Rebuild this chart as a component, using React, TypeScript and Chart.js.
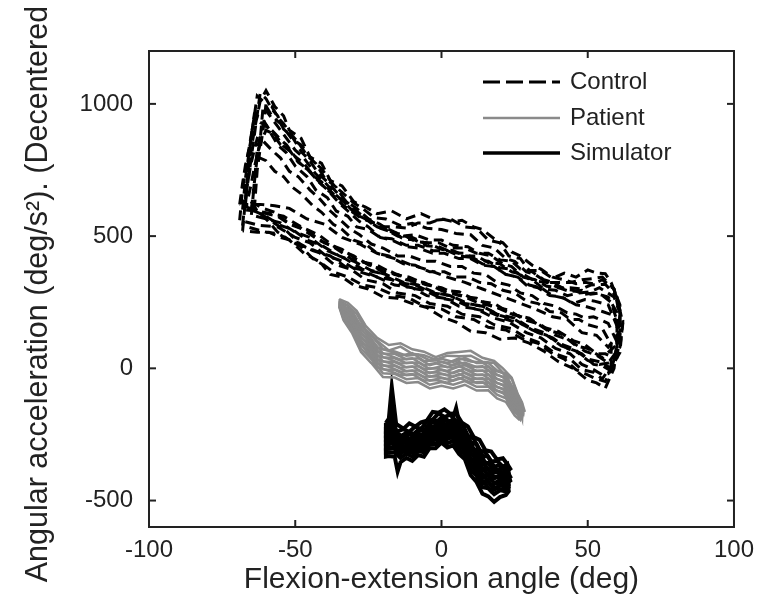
import React, { useEffect, useRef } from "react";
import { Chart, registerables } from "chart.js";

Chart.register(...registerables);

const xTicks = [-100, -50, 0, 50, 100];
const yTicks = [-500, 0, 500, 1000];
const legendLabels = ["Control", "Patient", "Simulator"];
const xTitle = "Flexion-extension angle (deg)";
const yTitle = "Angular acceleration (deg/s\u00B2). (Decentered)";

const controlTraces: number[][][] = [
  [[-67,620],[-66,760],[-64,900],[-62,1010],[-60,1050],[-57,990],[-54,955],[-52,900],[-48,870],[-45,800],[-41,775],[-38,710],[-34,690],[-30,630],[-26,610],[-22,585],[-17,595],[-12,565],[-7,585],[-2,560],[3,565],[8,535],[12,530],[16,485],[20,475],[23,425],[27,415],[30,370],[34,370],[38,340],[42,360],[46,345],[50,372],[53,360],[56,358],[58,325],[61,240],[61,140],[57,80],[53,125],[48,135],[43,185],[38,195],[32,225],[26,250],[20,275],[14,300],[8,325],[2,345],[-4,370],[-10,390],[-16,415],[-22,435],[-28,470],[-34,495],[-40,545],[-46,565],[-52,605],[-57,615],[-62,620],[-67,620]],
  [[-68,600],[-67,720],[-66,800],[-65,880],[-63,1030],[-61,1010],[-58,955],[-55,925],[-51,865],[-48,845],[-44,785],[-41,755],[-37,695],[-34,665],[-30,625],[-27,605],[-23,570],[-19,565],[-14,540],[-10,548],[-5,530],[0,525],[5,510],[10,505],[14,465],[18,455],[22,415],[25,405],[29,365],[32,355],[36,325],[40,325],[44,325],[48,335],[52,340],[55,345],[59,300],[61,200],[60,90],[55,40],[50,75],[46,85],[41,130],[36,145],[30,190],[24,205],[18,245],[12,255],[6,290],[0,295],[-6,325],[-12,335],[-18,370],[-24,385],[-30,425],[-36,455],[-42,505],[-48,535],[-54,575],[-58,585],[-63,595],[-68,600]],
  [[-65,580],[-64,700],[-63,800],[-62,860],[-61,990],[-59,960],[-56,915],[-54,885],[-50,825],[-47,795],[-43,735],[-40,705],[-36,655],[-33,625],[-29,580],[-26,565],[-22,535],[-18,525],[-13,500],[-9,505],[-4,485],[0,485],[4,465],[9,460],[13,435],[17,425],[21,395],[24,385],[28,345],[31,335],[35,300],[39,295],[43,275],[47,285],[51,290],[54,305],[59,270],[62,180],[61,60],[58,0],[54,25],[50,35],[45,75],[40,95],[35,135],[30,155],[25,190],[19,205],[14,235],[8,245],[3,275],[-3,285],[-9,315],[-15,325],[-21,360],[-27,375],[-33,415],[-39,445],[-45,495],[-50,515],[-55,550],[-60,565],[-65,580]],
  [[-69,560],[-68,680],[-66,820],[-64,950],[-62,930],[-60,920],[-56,845],[-53,815],[-50,765],[-46,725],[-43,675],[-39,645],[-36,595],[-32,575],[-29,535],[-25,525],[-21,495],[-17,490],[-12,465],[-8,465],[-3,445],[2,445],[6,425],[10,420],[14,395],[18,385],[22,355],[26,345],[29,315],[33,305],[37,275],[41,270],[45,245],[49,260],[52,255],[57,240],[60,160],[60,60],[57,-20],[55,-25],[52,-5],[48,15],[44,55],[39,75],[34,115],[29,135],[23,175],[18,190],[12,225],[6,235],[1,265],[-5,275],[-10,305],[-16,315],[-22,345],[-28,365],[-34,405],[-40,430],[-45,475],[-50,495],[-56,535],[-62,540],[-69,560]],
  [[-66,650],[-65,700],[-64,760],[-62,850],[-60,900],[-58,890],[-55,845],[-52,825],[-49,780],[-46,755],[-42,705],[-39,675],[-35,625],[-32,595],[-28,555],[-25,535],[-21,495],[-17,485],[-12,460],[-8,455],[-3,435],[1,435],[6,415],[10,415],[14,390],[18,385],[22,355],[26,345],[30,315],[34,305],[38,275],[42,265],[46,240],[49,235],[55,215],[59,200],[61,130],[60,40],[56,-50],[53,-40],[50,-25],[46,-5],[42,35],[38,55],[33,95],[28,110],[22,145],[16,155],[11,185],[5,195],[0,225],[-6,235],[-11,265],[-16,275],[-22,305],[-27,315],[-32,345],[-37,365],[-42,405],[-47,435],[-52,485],[-56,515],[-60,565],[-63,595],[-66,650]],
  [[-68,540],[-67,650],[-66,720],[-65,780],[-63,870],[-61,860],[-58,825],[-55,795],[-52,745],[-49,725],[-45,675],[-42,645],[-38,595],[-35,565],[-31,525],[-28,505],[-24,470],[-20,455],[-15,425],[-11,425],[-6,405],[-2,405],[3,385],[7,385],[11,360],[15,355],[19,325],[23,315],[27,285],[31,275],[35,245],[39,235],[43,210],[46,205],[49,190],[52,195],[57,170],[60,100],[59,0],[56,-75],[53,-55],[50,-45],[45,0],[40,25],[35,65],[30,95],[25,115],[20,110],[15,135],[10,140],[5,175],[0,195],[-5,230],[-10,245],[-15,265],[-20,270],[-25,300],[-30,315],[-34,345],[-38,355],[-41,395],[-44,415],[-48,460],[-52,485],[-56,510],[-60,515],[-68,540]],
  [[-69,620],[-68,700],[-67,770],[-66,820],[-63,800],[-60,785],[-57,745],[-54,725],[-51,685],[-48,660],[-44,615],[-41,590],[-37,545],[-34,525],[-30,485],[-26,470],[-22,435],[-18,425],[-13,395],[-9,390],[-4,365],[1,365],[5,345],[9,345],[13,325],[17,320],[21,295],[25,285],[29,255],[33,245],[37,215],[41,210],[44,185],[47,185],[50,165],[55,150],[58,90],[58,10],[55,-40],[52,-15],[48,-5],[44,35],[39,55],[34,95],[29,115],[24,150],[18,165],[13,195],[7,205],[2,235],[-4,245],[-9,275],[-15,285],[-20,320],[-26,335],[-31,375],[-37,395],[-42,440],[-48,465],[-53,520],[-58,555],[-63,595],[-69,620]],
  [[-64,600],[-63,750],[-62,830],[-61,900],[-60,1000],[-58,990],[-56,950],[-54,925],[-51,880],[-49,855],[-46,805],[-43,775],[-40,720],[-36,685],[-33,635],[-29,605],[-25,565],[-21,545],[-17,515],[-13,505],[-9,480],[-5,475],[0,450],[4,445],[8,425],[12,425],[16,400],[20,395],[24,365],[28,355],[32,330],[36,325],[40,305],[44,305],[48,300],[51,315],[56,318],[60,270],[62,170],[61,80],[57,20],[53,50],[49,65],[44,105],[39,125],[34,165],[28,185],[23,220],[17,235],[12,265],[6,275],[0,305],[-5,315],[-11,345],[-16,355],[-22,390],[-28,405],[-34,450],[-40,475],[-46,520],[-52,545],[-56,575],[-60,585],[-64,600]],
  [[-67,640],[-66,780],[-65,880],[-64,960],[-62,950],[-61,940],[-59,905],[-57,885],[-54,840],[-51,815],[-48,770],[-45,745],[-41,695],[-38,665],[-34,620],[-31,595],[-27,565],[-24,555],[-20,535],[-16,535],[-12,530],[-8,550],[-4,550],[0,565],[4,555],[7,560],[11,535],[14,525],[18,490],[21,475],[24,440],[27,425],[31,390],[34,375],[38,345],[42,335],[46,320],[49,325],[52,320],[55,335],[59,300],[61,220],[61,120],[59,40],[56,55],[53,55],[49,90],[45,105],[40,140],[35,155],[29,190],[24,205],[18,235],[13,245],[7,275],[2,285],[-4,315],[-9,325],[-15,355],[-20,365],[-26,400],[-31,415],[-37,460],[-42,485],[-48,530],[-53,555],[-57,590],[-61,605],[-67,640]],
  [[-68,520],[-67,640],[-66,720],[-65,800],[-63,960],[-62,1040],[-60,1020],[-58,980],[-56,955],[-54,905],[-51,875],[-48,820],[-45,785],[-42,735],[-39,705],[-35,655],[-32,625],[-28,585],[-25,565],[-21,530],[-17,515],[-13,490],[-9,485],[-5,463],[-1,460],[4,437],[8,435],[12,410],[16,405],[20,380],[24,375],[28,345],[32,335],[36,310],[40,305],[44,290],[48,295],[51,280],[54,285],[58,250],[60,180],[60,80],[58,-10],[55,10],[52,15],[48,55],[43,75],[38,115],[33,135],[27,170],[22,185],[16,215],[11,225],[5,255],[0,265],[-6,295],[-11,305],[-17,335],[-22,345],[-28,375],[-33,385],[-38,425],[-44,445],[-50,480],[-55,495],[-59,515],[-63,515],[-68,520]],
  [[-65,600],[-64,700],[-63,830],[-61,920],[-59,910],[-58,900],[-55,865],[-53,845],[-50,800],[-47,775],[-44,730],[-41,705],[-37,660],[-34,635],[-30,595],[-27,575],[-23,540],[-19,525],[-15,500],[-10,495],[-6,475],[-1,475],[3,455],[8,455],[12,435],[16,435],[20,410],[24,405],[27,375],[31,365],[35,335],[38,325],[42,300],[45,295],[49,280],[52,285],[57,270],[60,210],[61,110],[59,30],[57,20],[54,15],[50,30],[46,65],[41,85],[36,125],[31,145],[25,185],[20,200],[14,235],[9,245],[3,275],[-2,285],[-8,315],[-13,325],[-19,355],[-24,370],[-30,405],[-35,425],[-41,465],[-46,485],[-51,525],[-55,540],[-60,575],[-65,600]],
];

const patientTraces: number[][][] = [
  [[-35,262],[-32,248],[-29,218],[-26,162],[-22,115],[-18,88],[-14,95],[-10,72],[-6,63],[-2,42],[2,58],[6,62],[10,66],[14,40],[18,28],[21,0],[24,-35],[26,-95],[27.5,-128],[28.5,-165],[27,-130],[25,-88],[22,-22],[19,-8],[16,20],[12,20],[8,40],[4,24],[0,36],[-4,30],[-8,52],[-12,48],[-16,64],[-20,72],[-24,124],[-27.5,160],[-30.5,216],[-33.5,232],[-35,262]],
  [[-35,256],[-32,238],[-29,206],[-26,148],[-22,104],[-18,68],[-14,82],[-10,55],[-6,50],[-2,33],[2,48],[6,46],[10,48],[14,25],[18,20],[21,-16],[24,-40],[26,-100],[27.5,-132],[28,-176],[27,-140],[25,-100],[22,-38],[19,-24],[16,6],[12,4],[8,22],[4,12],[0,24],[-4,12],[-8,38],[-12,34],[-16,55],[-20,56],[-24,110],[-27.5,146],[-30.5,204],[-33.5,226],[-35,256]],
  [[-35,252],[-32,236],[-29,180],[-26,145],[-22,78],[-18,66],[-14,48],[-10,58],[-6,28],[-2,30],[2,20],[6,38],[10,26],[14,22],[18,-8],[21,-18],[24,-68],[26,-98],[27.5,-152],[28,-172],[27,-150],[25,-114],[22,-52],[19,-40],[16,-8],[12,-10],[8,12],[4,2],[0,8],[-4,-2],[-8,22],[-12,20],[-16,38],[-20,42],[-24,95],[-27.5,132],[-30.5,192],[-33.5,218],[-35,252]],
  [[-35,248],[-32,226],[-29,168],[-26,130],[-22,64],[-18,50],[-14,33],[-10,38],[-6,12],[-2,20],[2,4],[6,24],[10,5],[14,8],[18,-22],[21,-32],[24,-82],[26,-110],[27.5,-160],[28,-182],[27,-158],[25,-128],[22,-68],[19,-55],[16,-24],[12,-25],[8,-3],[4,-18],[0,-6],[-4,-18],[-8,8],[-12,4],[-16,24],[-20,26],[-24,80],[-27.5,118],[-30.5,180],[-33.5,210],[-35,248]],
  [[-35,244],[-32,215],[-29,155],[-26,115],[-22,48],[-18,36],[-14,18],[-10,22],[-6,-2],[-2,0],[2,-10],[6,8],[10,-10],[14,-8],[18,-37],[21,-47],[24,-97],[26,-124],[27.5,-168],[27.5,-188],[27,-170],[25,-140],[22,-83],[19,-70],[16,-39],[12,-40],[8,-18],[4,-32],[0,-22],[-4,-32],[-8,-7],[-12,-11],[-16,9],[-20,11],[-24,65],[-27.5,103],[-30.5,168],[-33.5,202],[-35,244]],
  [[-35,240],[-32,205],[-29,141],[-26,100],[-22,33],[-18,21],[-14,2],[-10,7],[-6,-17],[-2,-15],[2,-25],[6,-7],[10,-25],[14,-23],[18,-52],[21,-62],[24,-112],[26,-137],[27.5,-176],[27.5,-190],[26.5,-178],[25,-154],[22,-98],[19,-85],[16,-54],[12,-55],[8,-33],[4,-47],[0,-37],[-4,-47],[-8,-22],[-12,-26],[-16,-6],[-20,-4],[-24,50],[-27.5,89],[-30.5,156],[-33.5,194],[-35,240]],
  [[-35,236],[-32,194],[-29,128],[-26,85],[-22,18],[-18,6],[-14,-13],[-10,-8],[-6,-32],[-2,-30],[2,-40],[6,-22],[10,-40],[14,-38],[18,-67],[21,-77],[24,-127],[26,-150],[27.5,-182],[27,-194],[26,-176],[25,-166],[22,-113],[19,-100],[16,-69],[12,-70],[8,-48],[4,-62],[0,-52],[-4,-62],[-8,-37],[-12,-41],[-16,-21],[-20,-19],[-24,35],[-27.5,75],[-30.5,144],[-33.5,188],[-35,236]],
  [[-35,233],[-32,184],[-29,116],[-26,70],[-22,4],[-18,-9],[-14,-26],[-10,-22],[-6,-46],[-2,-44],[2,-54],[6,-36],[10,-54],[14,-52],[18,-81],[21,-91],[24,-140],[26,-162],[27.5,-186],[26.5,-193],[25,-178],[22,-127],[19,-114],[16,-83],[12,-84],[8,-62],[4,-76],[0,-66],[-4,-76],[-8,-52],[-12,-55],[-16,-35],[-20,-33],[-24,20],[-27.5,62],[-30.5,132],[-33.5,182],[-35,233]],
];

const simulatorTraces: number[][][] = [
  [[-19,-206],[-18,-190],[-17,-70],[-15.5,-210],[-13,-228],[-11,-208],[-9,-220],[-7,-204],[-5,-198],[-3,-165],[-1,-168],[1,-155],[3,-172],[5,-170],[7,-206],[9,-220],[11,-260],[13,-270],[15,-310],[17,-315],[19,-345],[21,-340],[22.5,-362],[23.5,-380],[22,-392],[20,-366],[18,-372],[16,-335],[14,-330],[12,-287],[10,-280],[8,-240],[6,-228],[4,-196],[2,-202],[0,-186],[-2,-206],[-4,-206],[-6,-238],[-8,-233],[-10,-254],[-12,-244],[-14,-258],[-16,-240],[-18,-235],[-19,-238],[-19,-206]],
  [[-19,-222],[-18,-196],[-17,-180],[-15.5,-240],[-13,-230],[-11,-240],[-9,-220],[-7,-230],[-5,-200],[-3,-194],[-1,-170],[1,-184],[3,-175],[5,-200],[7,-208],[9,-254],[11,-266],[13,-309],[15,-318],[17,-352],[19,-350],[21,-372],[22.5,-362],[23,-395],[22,-406],[20,-386],[18,-392],[16,-358],[14,-354],[12,-310],[10,-300],[8,-256],[6,-244],[4,-212],[2,-218],[0,-202],[-2,-222],[-4,-222],[-6,-254],[-8,-249],[-10,-270],[-12,-260],[-14,-275],[-16,-255],[-18,-252],[-19,-254],[-19,-222]],
  [[-19,-238],[-18,-226],[-17,-140],[-15.5,-242],[-13,-261],[-11,-241],[-9,-251],[-7,-231],[-5,-231],[-3,-196],[-1,-201],[1,-186],[3,-206],[5,-201],[7,-240],[9,-258],[11,-305],[13,-318],[15,-358],[17,-360],[19,-386],[21,-374],[22.5,-389],[23.5,-410],[22,-420],[20,-405],[18,-413],[16,-383],[14,-378],[12,-335],[10,-321],[8,-274],[6,-260],[4,-228],[2,-235],[0,-218],[-2,-238],[-4,-238],[-6,-270],[-8,-265],[-10,-286],[-12,-276],[-14,-291],[-16,-271],[-18,-268],[-19,-270],[-19,-238]],
  [[-19,-254],[-18,-242],[-17,-206],[-15.5,-272],[-13,-262],[-11,-272],[-9,-252],[-7,-262],[-5,-232],[-3,-227],[-1,-202],[1,-217],[3,-207],[5,-232],[7,-242],[9,-292],[11,-312],[13,-357],[15,-367],[17,-397],[19,-392],[21,-407],[22.5,-387],[23.5,-425],[22,-436],[20,-424],[18,-434],[16,-407],[14,-402],[12,-359],[10,-342],[8,-292],[6,-276],[4,-244],[2,-251],[0,-234],[-2,-254],[-4,-254],[-6,-286],[-8,-281],[-10,-302],[-12,-292],[-14,-307],[-16,-287],[-18,-284],[-19,-286],[-19,-254]],
  [[-19,-270],[-18,-258],[-17,-222],[-15.5,-288],[-13,-277],[-11,-288],[-9,-267],[-7,-278],[-5,-247],[-3,-243],[-1,-217],[1,-233],[3,-222],[5,-150],[7,-258],[9,-311],[11,-333],[13,-381],[15,-390],[17,-419],[19,-412],[21,-425],[22.5,-399],[23,-440],[22,-450],[20,-442],[18,-455],[16,-430],[14,-426],[12,-382],[10,-363],[8,-309],[6,-292],[4,-259],[2,-267],[0,-249],[-2,-270],[-4,-269],[-6,-302],[-8,-296],[-10,-318],[-12,-307],[-14,-323],[-16,-302],[-18,-300],[-19,-302],[-19,-270]],
  [[-19,-286],[-18,-274],[-17,-238],[-15.5,-304],[-13,-293],[-11,-304],[-9,-283],[-7,-294],[-5,-263],[-3,-259],[-1,-233],[1,-249],[3,-238],[5,-264],[7,-275],[9,-330],[11,-356],[13,-405],[15,-414],[17,-442],[19,-433],[21,-442],[22.5,-412],[23,-450],[22,-465],[20,-461],[18,-476],[16,-454],[14,-450],[12,-406],[10,-384],[8,-326],[6,-308],[4,-275],[2,-283],[0,-265],[-2,-286],[-4,-285],[-6,-318],[-8,-312],[-10,-334],[-12,-323],[-14,-339],[-16,-318],[-18,-316],[-19,-318],[-19,-286]],
  [[-19,-302],[-18,-290],[-17,-254],[-15.5,-320],[-13,-309],[-11,-320],[-9,-299],[-7,-310],[-5,-279],[-3,-275],[-1,-249],[1,-265],[3,-254],[5,-280],[7,-291],[9,-350],[11,-378],[13,-429],[15,-438],[17,-464],[19,-453],[21,-460],[22.5,-424],[23,-465],[22,-479],[20,-487],[18,-505],[16,-484],[14,-474],[12,-430],[10,-404],[8,-344],[6,-324],[4,-291],[2,-299],[0,-281],[-2,-302],[-4,-301],[-6,-334],[-8,-328],[-10,-350],[-12,-339],[-14,-355],[-15,-390],[-16,-334],[-18,-332],[-19,-334],[-19,-302]],
];

const FONT = "'Liberation Sans', Arial, Helvetica, sans-serif";
const INK = "#222222";
const GRAY = "#8a8a8a";

export default function App() {
  const ref = useRef<HTMLCanvasElement>(null);

  useEffect(() => {
    if (!ref.current) return;
    const toXY = (t: number[][]) => t.map(([x, y]) => ({ x, y }));
    const common = { showLine: true, pointRadius: 0, pointHoverRadius: 0, fill: false, tension: 0 };
    const datasets: any[] = [
      ...controlTraces.map((t) => ({ ...common, data: toXY(t), borderColor: "#000", borderWidth: 3, borderDash: [10, 6] })),
      ...patientTraces.map((t) => ({ ...common, data: toXY(t), borderColor: GRAY, borderWidth: 2.5 })),
      ...simulatorTraces.map((t) => ({ ...common, data: toXY(t), borderColor: "#000", borderWidth: 4 })),
    ];

    const framePlugin = {
      id: "frameAndLegend",
      afterDatasetsDraw(chart: any) {
        const { ctx, chartArea: a, scales } = chart;
        ctx.save();
        ctx.strokeStyle = INK;
        ctx.lineWidth = 2;
        ctx.setLineDash([]);
        ctx.strokeRect(a.left, a.top, a.right - a.left, a.bottom - a.top);
        const L = 7;
        const seg = (x1: number, y1: number, x2: number, y2: number) => {
          ctx.beginPath();
          ctx.moveTo(x1, y1);
          ctx.lineTo(x2, y2);
          ctx.stroke();
        };
        xTicks.forEach((v) => {
          const px = scales.x.getPixelForValue(v);
          seg(px, a.bottom, px, a.bottom - L);
          seg(px, a.top, px, a.top + L);
        });
        yTicks.forEach((v) => {
          const py = scales.y.getPixelForValue(v);
          seg(a.left, py, a.left + L, py);
          seg(a.right, py, a.right - L, py);
        });

        const lx1 = a.left + 334;
        const lx2 = a.left + 411;
        const tx = a.left + 421;
        const rows = [a.top + 31, a.top + 67, a.top + 102];
        const styles = [
          { color: "#000", width: 3, dash: [17, 6] },
          { color: GRAY, width: 2.5, dash: [] as number[] },
          { color: "#000", width: 3.5, dash: [] as number[] },
        ];
        legendLabels.forEach((lab, i) => {
          const s = styles[i];
          ctx.strokeStyle = s.color;
          ctx.lineWidth = s.width;
          ctx.setLineDash(s.dash);
          seg(lx1, rows[i], lx2, rows[i]);
          ctx.setLineDash([]);
          ctx.fillStyle = INK;
          ctx.font = `24px ${FONT}`;
          ctx.textAlign = "left";
          ctx.textBaseline = "middle";
          ctx.fillText(lab, tx, rows[i]);
        });
        ctx.restore();
      },
    };

    const chart = new Chart(ref.current, {
      type: "scatter",
      data: { datasets },
      options: {
        animation: false,
        responsive: false,
        devicePixelRatio: 1,
        layout: { padding: { top: 43, right: 28, left: 0, bottom: 0 } },
        plugins: { legend: { display: false }, tooltip: { enabled: false } },
        scales: {
          x: {
            type: "linear",
            min: -100,
            max: 100,
            afterBuildTicks: (s: any) => {
              s.ticks = xTicks.map((v) => ({ value: v }));
            },
            afterFit: (s: any) => {
              s.height = 76;
            },
            grid: { display: false, drawTicks: false },
            border: { display: false },
            ticks: { color: INK, font: { family: FONT, size: 24 }, padding: 9, maxRotation: 0, callback: (v: any) => String(v) },
            title: { display: true, text: xTitle, color: INK, font: { family: FONT, size: 30 }, padding: { top: 0, bottom: 5 } },
          },
          y: {
            type: "linear",
            min: -600,
            max: 1200,
            afterBuildTicks: (s: any) => {
              s.ticks = yTicks.map((v) => ({ value: v }));
            },
            afterFit: (s: any) => {
              s.width = 141;
            },
            grid: { display: false, drawTicks: false },
            border: { display: false },
            ticks: { color: INK, font: { family: FONT, size: 24 }, padding: 16, callback: (v: any) => String(v) },
            title: { display: true, text: yTitle, color: INK, font: { family: FONT, size: 30.5 }, padding: { top: 12, bottom: 0 } },
          },
        },
      } as any,
      plugins: [framePlugin],
    });
    return () => chart.destroy();
  }, []);

  return (
    <div style={{ width: 755, height: 595 }}>
      <canvas ref={ref} width={755} height={595} style={{ display: "block" }} />
    </div>
  );
}
